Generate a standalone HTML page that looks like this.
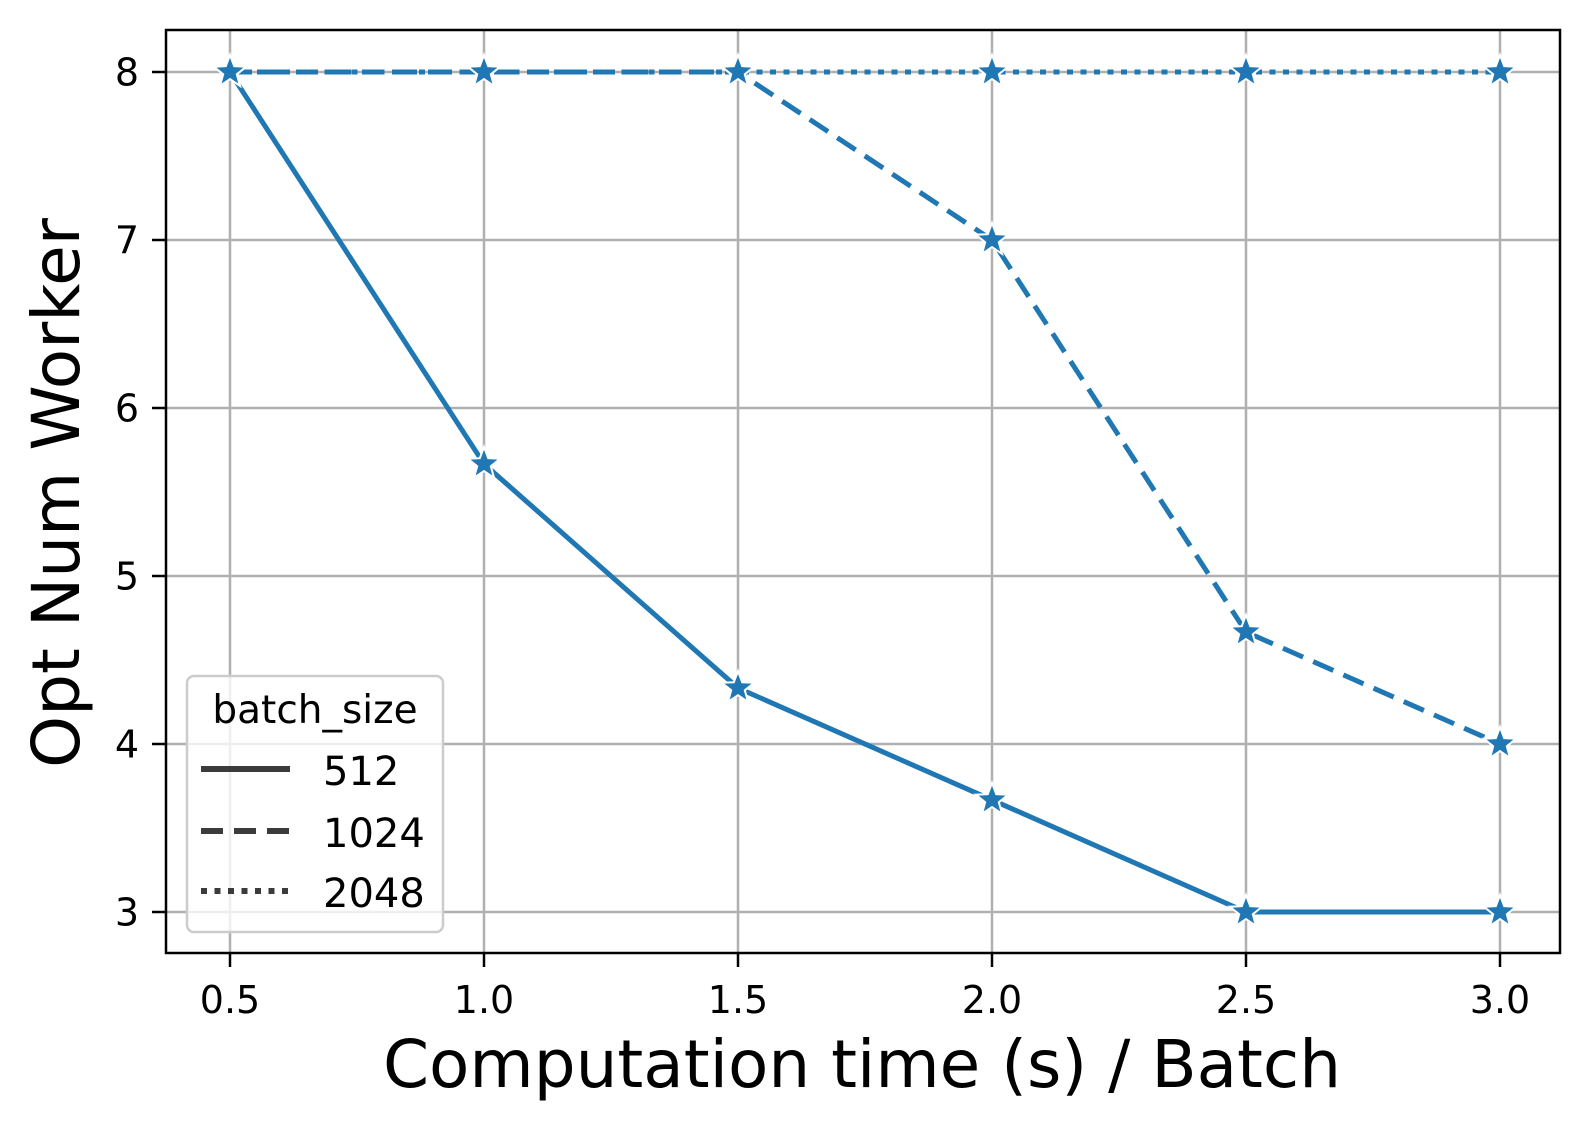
<!DOCTYPE html>
<html><head><meta charset="utf-8"><style>body{margin:0;background:#fff}svg{display:block}text{font-family:"DejaVu Sans","Liberation Sans",sans-serif;fill:#000}</style></head>
<body>
<svg id="chart" width="1591" height="1133" viewBox="0 0 1591 1133" xmlns="http://www.w3.org/2000/svg">
<g id="grid"></g>
<g id="series"></g>
<rect x="166" y="30" width="1394" height="923" fill="none" stroke="#000" stroke-width="2.5"/>
<g id="ticks"></g>
<text x="862" y="1087" font-size="66" text-anchor="middle">Computation time (s) / Batch</text>
<text transform="translate(79,493) rotate(-90)" font-size="66" text-anchor="middle">Opt Num Worker</text>
<g>
<rect x="187" y="676" width="256" height="256" rx="7" fill="#fff" fill-opacity="0.8" stroke="#ccc" stroke-width="2.5"/>
<text x="315" y="723" font-size="39" text-anchor="middle">batch_size</text>
<line x1="201" y1="769" x2="290" y2="769" stroke="#3b3b3b" stroke-width="6"/>
<text x="323" y="785" font-size="40">512</text>
<line x1="201" y1="831" x2="290" y2="831" stroke="#3b3b3b" stroke-width="6" stroke-dasharray="22,11"/>
<text x="323" y="847" font-size="40">1024</text>
<line x1="201" y1="891" x2="290" y2="891" stroke="#3b3b3b" stroke-width="6" stroke-dasharray="6,7.5"/>
<text x="323" y="907" font-size="40">2048</text>
</g>
</svg>
<script>
const xValues = [0.5, 1.0, 1.5, 2.0, 2.5, 3.0];
const s512 = [8, 5.667, 4.333, 3.667, 3, 3];
const s1024 = [8, 8, 8, 7, 4.667, 4];
const s2048 = [8, 8, 8, 8, 8, 8];
const xTicks = ["0.5","1.0","1.5","2.0","2.5","3.0"];
const yTicks = [3,4,5,6,7,8];

const NS="http://www.w3.org/2000/svg";
const X=v=>230+(v-0.5)*508;
const Y=v=>912-(v-3)*168;
function mk(tag,parent,attrs){const e=document.createElementNS(NS,tag);for(const k in attrs)e.setAttribute(k,attrs[k]);parent.appendChild(e);return e;}
const grid=document.getElementById('grid'),ticks=document.getElementById('ticks'),series=document.getElementById('series');
xTicks.forEach((t,i)=>{const x=X(parseFloat(t));
 const g=mk('line',grid,{x1:x,x2:x,y1:30,y2:953,stroke:'#b0b0b0','stroke-width':2.5});
 
 
 const tk=mk('line',ticks,{x1:x,x2:x,y1:953,y2:967,stroke:'#000','stroke-width':2.5});
 
 
 const tx=mk('text',ticks,{x:x,y:1013,'font-size':38,'text-anchor':'middle'});tx.textContent=t;
 
 
});
yTicks.forEach(v=>{const y=Y(v);
 const g=mk('line',grid,{x1:166,x2:1560,y1:y,y2:y,stroke:'#b0b0b0','stroke-width':2.5});
 
 
 const tk=mk('line',ticks,{x1:152,x2:166,y1:y,y2:y,stroke:'#000','stroke-width':2.5});
 
 
 const tx=mk('text',ticks,{x:139,y:y+13.5,'font-size':38,'text-anchor':'end'});tx.textContent=v;
 
 
});
function star(cx,cy,r){let p=[];for(let i=0;i<10;i++){const a=-Math.PI/2+i*Math.PI/5;const rr=i%2?r*0.42:r;p.push((cx+rr*Math.cos(a)).toFixed(1)+','+(cy+rr*Math.sin(a)).toFixed(1));}return p.join(' ');}
[[s512,'none','series-512'],[s1024,'22,11','series-1024'],[s2048,'6,7.5','series-2048']].forEach(([vals,dash,name])=>{
 const pts=vals.map((v,i)=>X(xValues[i])+','+Y(v)).join(' ');
 const l=mk('polyline',series,{points:pts,fill:'none',stroke:'#1f77b4','stroke-width':5,'stroke-dasharray':dash,'stroke-linejoin':'round'});
 
 
});
[s512,s1024,s2048].forEach((vals,si)=>vals.forEach((v,i)=>{
 const m=mk('polygon',series,{points:star(X(xValues[i]),Y(v),17),fill:'#1f77b4',stroke:'#fff','stroke-width':2});
 
 
}));
</script>
</body></html>
